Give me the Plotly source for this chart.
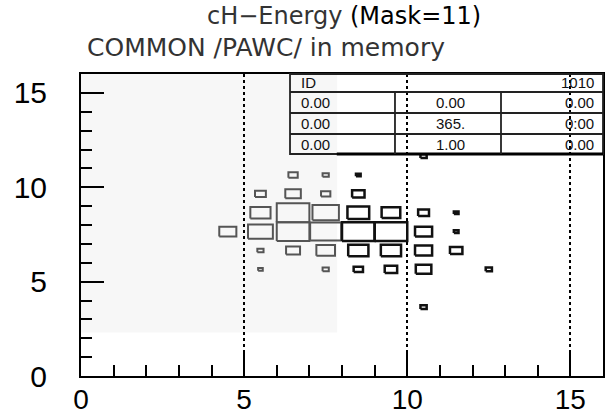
import plotly.graph_objects as go

# ---- data (2D histogram cell contents, box option) ----
cell_x = [10.5,
          6.5, 7.5, 8.5,
          5.5, 6.5, 7.5, 8.5,
          5.5, 6.5, 7.5, 8.5, 9.5, 10.5, 11.5,
          4.5, 5.5, 6.5, 7.5, 8.5, 9.5, 10.5, 11.5,
          5.5, 6.5, 7.5, 8.5, 9.5, 10.5, 11.5,
          5.5, 7.5, 8.5, 9.5, 10.5, 12.5,
          10.5]
cell_y = [11.65,
          10.65, 10.65, 10.65,
          9.65, 9.65, 9.65, 9.65,
          8.65, 8.65, 8.65, 8.65, 8.65, 8.65, 8.65,
          7.65, 7.65, 7.65, 7.65, 7.65, 7.65, 7.65, 7.65,
          6.65, 6.65, 6.65, 6.65, 6.65, 6.65, 6.65,
          5.65, 5.65, 5.65, 5.65, 5.65, 5.65,
          3.65]
counts = [4,
          6, 4, 3,
          7, 10, 6, 8,
          13, 21, 17, 14, 12, 7, 3,
          11, 16, 21, 20, 21, 21, 11, 3,
          4, 9, 12, 13, 13, 11, 8,
          3, 4, 6, 8, 10, 4,
          4]

x_ticks = [0, 5, 10, 15]
y_ticks = [0, 5, 10, 15]
x_minor = [v for v in range(1, 16) if v % 5]
y_minor = [v for v in range(1, 16) if v % 5]

title_part1 = "cH\u2212Energy"
title_part2 = "(Mask=11)"
title_line2 = "COMMON /PAWC/ in memory"

table_id = ["ID", "1010"]
table_col1 = ["0.00", "0.00", "0.00"]
table_col2 = ["0.00", "365.", "1.00"]
table_col3 = ["0.00", "0:00", "0.00"]

BIN_W, BIN_H = 1.0, 1.0
vmax = max(counts)
FADE_X = 7.85


def box_path(sel):
    px, py = [], []
    for x, y, v in sel:
        s = v / vmax
        hw, hh = s * BIN_W / 2, s * BIN_H / 2
        px += [x - hw, x + hw, x + hw, x - hw, x - hw, None]
        py += [y - hh, y - hh, y + hh, y + hh, y - hh, None]
    return px, py


cells = list(zip(cell_x, cell_y, counts))
grey_cells = [c for c in cells if c[0] < FADE_X]
dark_cells = [c for c in cells if c[0] >= FADE_X]

fig = go.Figure()
gx, gy = box_path(grey_cells)
dx, dy = box_path(dark_cells)
fig.add_trace(go.Scatter(x=gx, y=gy, mode="lines",
                         line=dict(color="#555555", width=2),
                         hoverinfo="skip", showlegend=False))
fig.add_trace(go.Scatter(x=dx, y=dy, mode="lines",
                         line=dict(color="#111111", width=2.5),
                         hoverinfo="skip", showlegend=False))

common_axis = dict(
    range=[0, 16], ticks="inside", ticklen=23, tickwidth=2, tickcolor="black",
    showline=True, linecolor="black", linewidth=2, mirror=True,
    zeroline=False, tickmode="array", automargin=False,
)

fig.update_xaxes(**common_axis, tickvals=x_ticks, ticktext=[str(v) for v in x_ticks],
                 tickfont=dict(family="Liberation Sans, Arial, sans-serif", size=28,
                               color="black"),
                 showgrid=True, gridcolor="black", griddash="dot", gridwidth=2,
                 minor=dict(tickvals=x_minor, ticks="inside", ticklen=11,
                            tickwidth=2, tickcolor="black", showgrid=False),
                 ticklabelstandoff=-3)
fig.update_yaxes(**common_axis, tickvals=y_ticks, ticktext=[str(v) for v in y_ticks],
                 tickfont=dict(family="Liberation Sans, Arial, sans-serif", size=30,
                               color="black"),
                 showgrid=False,
                 minor=dict(tickvals=y_minor, ticks="inside", ticklen=11,
                            tickwidth=2, tickcolor="black", showgrid=False),
                 ticklabelstandoff=26)

# faint scanned area on left
fig.add_shape(type="rect", xref="x", yref="y", x0=0, x1=FADE_X, y0=2.3, y1=16,
              fillcolor="#f7f7f7", line=dict(width=0), layer="below")

# ---- statistics table (top right) ----
L, C1, C2, R = 0.4004, 0.6015, 0.8046, 1.0
rows = [1.0, 0.9404, 0.8709, 0.8013, 0.7351]
tline = dict(color="#222222", width=1.8)
fig.add_shape(type="rect", xref="paper", yref="paper", x0=L, x1=R, y0=rows[-1], y1=rows[0],
              line=tline)
for r in rows[1:-1]:
    fig.add_shape(type="line", xref="paper", yref="paper", x0=L, x1=R, y0=r, y1=r, line=tline)
fig.add_shape(type="line", xref="paper", yref="paper", x0=0.49, x1=R, y0=rows[-1], y1=rows[-1],
              line=dict(color="black", width=3))
for c in (C1, C2):
    fig.add_shape(type="line", xref="paper", yref="paper", x0=c, x1=c, y0=rows[-1], y1=rows[1],
                  line=tline)

tfont = dict(family="Liberation Sans, Arial, sans-serif", size=15, color="#111111")
mid = lambda i: (rows[i] + rows[i + 1]) / 2
fig.add_annotation(xref="paper", yref="paper", x=L + 0.018, y=mid(0), text=table_id[0],
                   xanchor="left", yanchor="middle", showarrow=False, font=tfont)
fig.add_annotation(xref="paper", yref="paper", x=R - 0.014, y=mid(0), text=table_id[1],
                   xanchor="right", yanchor="middle", showarrow=False, font=tfont)
for i in range(3):
    fig.add_annotation(xref="paper", yref="paper", x=L + 0.018, y=mid(i + 1),
                       text=table_col1[i], xanchor="left", yanchor="middle",
                       showarrow=False, font=tfont)
    fig.add_annotation(xref="paper", yref="paper", x=(C1 + C2) / 2 + 0.005, y=mid(i + 1),
                       text=table_col2[i], xanchor="center", yanchor="middle",
                       showarrow=False, font=tfont)
    fig.add_annotation(xref="paper", yref="paper", x=R - 0.014, y=mid(i + 1),
                       text=table_col3[i], xanchor="right", yanchor="middle",
                       showarrow=False, font=tfont)

# ---- titles ----
title_font_family = "DejaVu Sans, sans-serif"
fig.add_annotation(xref="paper", yref="paper", x=(344 - 81) / 522, y=1 + (74 - 16) / 302,
                   text=title_part1, xanchor="right", yanchor="middle", showarrow=False,
                   font=dict(family=title_font_family, size=24, color="#333333"))
fig.add_annotation(xref="paper", yref="paper", x=(348 - 81) / 522, y=1 + (74 - 16) / 302,
                   text=title_part2, xanchor="left", yanchor="middle", showarrow=False,
                   font=dict(family=title_font_family, size=24, color="black"))
fig.add_annotation(xref="paper", yref="paper", x=(266 - 81) / 522, y=1 + (74 - 47) / 302,
                   text=title_line2, xanchor="center", yanchor="middle", showarrow=False,
                   font=dict(family=title_font_family, size=25, color="#333333"))

fig.update_layout(width=605, height=417, margin=dict(l=81, r=2, t=74, b=41),
                  plot_bgcolor="white", paper_bgcolor="white", showlegend=False)

fig.write_html("out.html")
